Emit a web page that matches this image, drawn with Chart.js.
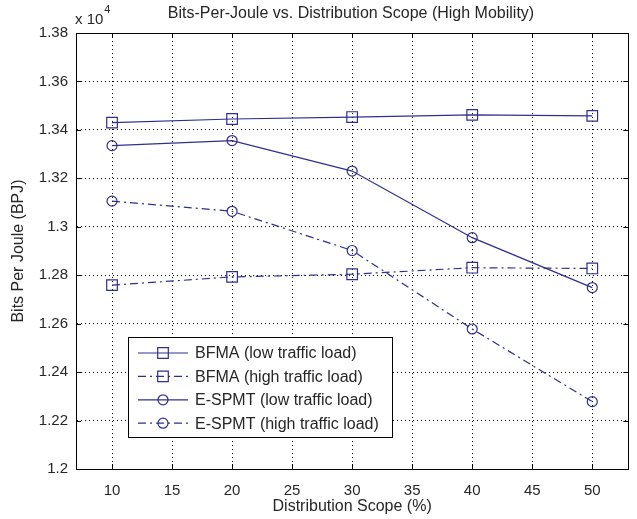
<!DOCTYPE html>
<html>
<head>
<meta charset="utf-8">
<title>Bits-Per-Joule vs. Distribution Scope</title>
<script src="https://cdn.jsdelivr.net/npm/chart.js@4.4.0/dist/chart.umd.min.js"></script>
<style>
  html, body { margin: 0; padding: 0; background: #fff; }
  #bpj-chart { display: block; }
</style>
</head>
<body>
<canvas id="bpj-chart" width="637" height="519"></canvas>
<script>
// Chart data, values in bits per joule
const scopes = [10, 20, 30, 40, 50];
const bfmaLow = [13430, 13445, 13453, 13462, 13458];
const bfmaHigh = [12759, 12793, 12804, 12831, 12828];
const espmtLow = [13335, 13356, 13230, 12955, 12749];
const espmtHigh = [13106, 13064, 12902, 12578, 12278];
const seriesNames = [
    'BFMA (low traffic load)',
    'BFMA (high traffic load)',
    'E-SPMT (low traffic load)',
    'E-SPMT (high traffic load)'
];
const xTicks = [10, 15, 20, 25, 30, 35, 40, 45, 50];
const yTicks = [12000, 12200, 12400, 12600, 12800, 13000, 13200, 13400, 13600, 13800];

const LINE = '#2f2f8f';
const TEXT = '#262626';
const FONT = '"Liberation Sans", Arial, sans-serif';
const DASHDOT = [8, 4, 2, 4];

function toPoints(arr) {
    return scopes.map((x, i) => ({ x: x, y: arr[i] }));
}

function makeSet(label, arr, style, dashed) {
    return {
        label: label,
        data: toPoints(arr),
        borderColor: LINE,
        backgroundColor: 'rgba(0,0,0,0)',
        borderWidth: 1.2,
        borderDash: dashed ? DASHDOT : [],
        pointStyle: style,
        pointRadius: style === 'rect' ? 7.5 : 5,
        pointBorderWidth: 1.2,
        pointBorderColor: LINE,
        pointBackgroundColor: 'rgba(0,0,0,0)',
        tension: 0,
        fill: false
    };
}

// frame, inward ticks, title, exponent
const matlabFrame = {
    id: 'matlabFrame',
    afterDraw(chart) {
        const ctx = chart.ctx;
        const a = chart.chartArea;
        const xs = chart.scales.x;
        const ys = chart.scales.y;
        ctx.save();
        ctx.strokeStyle = '#000';
        ctx.lineWidth = 1;
        ctx.setLineDash([]);
        ctx.strokeRect(Math.round(a.left) + 0.5, Math.round(a.top) + 0.5,
            Math.round(a.right - a.left), Math.round(a.bottom - a.top));
        ctx.beginPath();
        xTicks.forEach(v => {
            const px = Math.round(xs.getPixelForValue(v)) + 0.5;
            ctx.moveTo(px, a.bottom); ctx.lineTo(px, a.bottom - 5);
            ctx.moveTo(px, a.top); ctx.lineTo(px, a.top + 5);
        });
        yTicks.forEach(v => {
            const py = Math.round(ys.getPixelForValue(v)) + 0.5;
            ctx.moveTo(a.left, py); ctx.lineTo(a.left + 5, py);
            ctx.moveTo(a.right, py); ctx.lineTo(a.right - 5, py);
        });
        ctx.stroke();

        ctx.fillStyle = TEXT;
        ctx.textBaseline = 'middle';
        ctx.textAlign = 'center';
        ctx.font = '16px ' + FONT;
        ctx.fillText('Bits-Per-Joule vs. Distribution Scope (High Mobility)', 351, 14);
        ctx.textAlign = 'left';
        ctx.font = '15px ' + FONT;
        ctx.fillText('x 10', a.left - 1, 20);
        const w = ctx.measureText('x 10').width;
        ctx.font = '11px ' + FONT;
        ctx.fillText('4', a.left - 1 + w + 1, 10);
        ctx.restore();
    }
};

// boxed legend inside the axes
const boxLegend = {
    id: 'boxLegend',
    afterDatasetsDraw(chart) {
        const ctx = chart.ctx;
        const left = 128, top = 337, width = 264, height = 100;
        ctx.save();
        ctx.fillStyle = '#fff';
        ctx.fillRect(left, top, width, height);
        ctx.strokeStyle = '#000';
        ctx.lineWidth = 1;
        ctx.setLineDash([]);
        ctx.strokeRect(left + 0.5, top + 0.5, width, height);
        ctx.font = '16px ' + FONT;
        ctx.textBaseline = 'middle';
        ctx.textAlign = 'left';
        chart.data.datasets.forEach((ds, i) => {
            const y = top + 16 + i * 23.4;
            ctx.strokeStyle = ds.borderColor;
            ctx.lineWidth = ds.borderWidth;
            ctx.setLineDash(ds.borderDash);
            ctx.beginPath();
            ctx.moveTo(138, y);
            ctx.lineTo(188, y);
            ctx.stroke();
            ctx.setLineDash([]);
            ctx.fillStyle = 'rgba(0,0,0,0)';
            Chart.helpers.drawPoint(ctx, {
                pointStyle: ds.pointStyle,
                radius: ds.pointRadius,
                borderWidth: ds.pointBorderWidth
            }, 163, y);
            ctx.fillStyle = TEXT;
            ctx.fillText(seriesNames[i], 195, y + 1);
        });
        ctx.restore();
    }
};

const ctx = document.getElementById('bpj-chart').getContext('2d');
const bpjChart = new Chart(ctx, {
    type: 'line',
    data: {
        datasets: [
            makeSet(seriesNames[0], bfmaLow, 'rect', false),
            makeSet(seriesNames[1], bfmaHigh, 'rect', true),
            makeSet(seriesNames[2], espmtLow, 'circle', false),
            makeSet(seriesNames[3], espmtHigh, 'circle', true)
        ]
    },
    options: {
        responsive: false,
        animation: false,
        devicePixelRatio: 1,
        layout: { padding: { top: 33, right: 7, left: 0, bottom: 0 } },
        plugins: {
            legend: { display: false },
            tooltip: { enabled: false }
        },
        scales: {
            x: {
                type: 'linear',
                min: 7,
                max: 53,
                afterBuildTicks: s => { s.ticks = xTicks.map(v => ({ value: v })); },
                afterFit: s => { s.height = 50; },
                grid: { color: '#000', lineWidth: 1, drawTicks: false },
                border: { display: true, color: 'rgba(0,0,0,0)', dash: [1, 3] },
                ticks: {
                    color: TEXT,
                    font: { family: FONT, size: 15 },
                    padding: 13,
                    maxRotation: 0
                },
                title: {
                    display: true,
                    text: 'Distribution Scope (%)',
                    color: TEXT,
                    font: { family: FONT, size: 16 },
                    padding: { top: 2, bottom: 3 }
                }
            },
            y: {
                type: 'linear',
                min: 12000,
                max: 13800,
                afterBuildTicks: s => { s.ticks = yTicks.map(v => ({ value: v })); },
                afterFit: s => { s.width = 76; },
                grid: { color: '#000', lineWidth: 1, drawTicks: false },
                border: { display: true, color: 'rgba(0,0,0,0)', dash: [1, 3] },
                ticks: {
                    color: TEXT,
                    font: { family: FONT, size: 15 },
                    padding: 8,
                    callback: v => String(Number((v / 10000).toFixed(2)))
                },
                title: {
                    display: true,
                    text: 'Bits Per Joule (BPJ)',
                    color: TEXT,
                    font: { family: FONT, size: 16 },
                    padding: { top: 9, bottom: 4 }
                }
            }
        }
    },
    plugins: [boxLegend, matlabFrame]
});
</script>
</body>
</html>
